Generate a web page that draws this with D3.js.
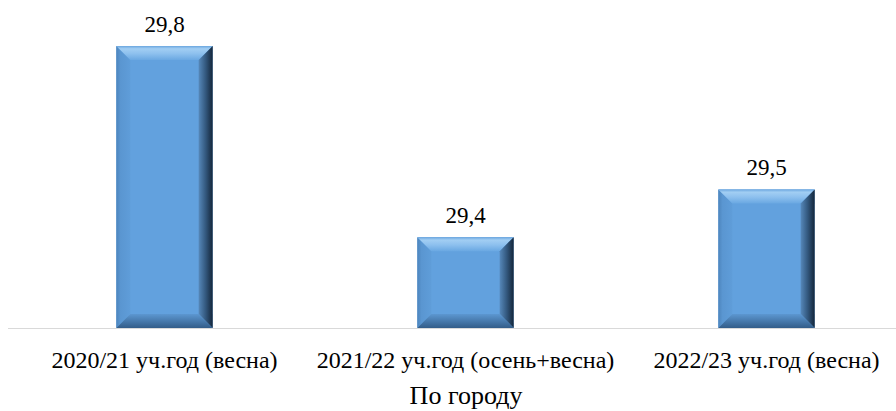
<!DOCTYPE html>
<html>
<head>
<meta charset="utf-8">
<script src="https://cdn.jsdelivr.net/npm/d3@7"></script>
<style>
  html, body { margin: 0; padding: 0; background: #fff; }
  svg { display: block; }
</style>
</head>
<body>
<script>
const categories = ["2020/21 уч.год (весна)", "2021/22 уч.год (осень+весна)", "2022/23 уч.год (весна)"];
const values = [29.8, 29.4, 29.5];
const valueLabels = ["29,8", "29,4", "29,5"];
const axisTitle = "По городу";

const width = 896, height = 411;
const baseY = 328;
const serif = '"Times New Roman", "Liberation Serif", serif';

const svg = d3.select("body").append("svg")
  .attr("width", width).attr("height", height);

const x = d3.scaleBand()
  .domain(categories)
  .range([14, 917])
  .paddingInner(0.68)
  .paddingOuter(0.34);

const y = d3.scaleLinear()
  .domain([29.21, 29.8])
  .range([baseY, 46]);

const defs = svg.append("defs");
function grad(id, x2, y2, stops) {
  const g = defs.append("linearGradient").attr("id", id)
    .attr("x1", 0).attr("y1", 0).attr("x2", x2).attr("y2", y2);
  stops.forEach(s => g.append("stop").attr("offset", s[0]).attr("stop-color", s[1]));
}
grad("gTop", 0, 1, [[0, "#6aa6df"], [0.2, "#a2cef3"], [0.55, "#8dc0ee"], [1, "#6aa8e2"]]);
grad("gLeft", 1, 0, [[0, "#4d85bd"], [0.3, "#5a96d1"], [1, "#5f9dd9"]]);
grad("gRight", 1, 0, [[0, "#5688ba"], [0.5, "#33587e"], [1, "#14263a"]]);
grad("gBottom", 0, 1, [[0, "#5c97d1"], [1, "#335d89"]]);

const bevel = 14;

const bars = svg.selectAll("g.bar")
  .data(values)
  .join("g")
  .attr("class", "bar");

function poly(d, i, side) {
  const x0 = x(categories[i]), x1 = x0 + x.bandwidth();
  const y0 = y(d), y1 = baseY;
  const b = Math.min(bevel, (y1 - y0) / 3);
  const ix0 = x0 + bevel, ix1 = x1 - bevel, iy0 = y0 + b, iy1 = y1 - b;
  let pts;
  if (side === "top") pts = [[x0, y0], [x1, y0], [ix1, iy0], [ix0, iy0]];
  if (side === "left") pts = [[x0, y0], [ix0, iy0], [ix0, iy1], [x0, y1]];
  if (side === "right") pts = [[x1, y0], [x1, y1], [ix1, iy1], [ix1, iy0]];
  if (side === "bottom") pts = [[x0, y1], [ix0, iy1], [ix1, iy1], [x1, y1]];
  return pts.map(p => p.join(",")).join(" ");
}

bars.append("rect")
  .attr("x", (d, i) => x(categories[i]))
  .attr("y", d => y(d))
  .attr("width", x.bandwidth())
  .attr("height", d => baseY - y(d))
  .attr("fill", "#62a1de");

[["left", "url(#gLeft)"], ["top", "url(#gTop)"], ["right", "url(#gRight)"], ["bottom", "url(#gBottom)"]]
  .forEach(([side, fill]) => {
    bars.append("polygon")
      .attr("points", (d, i) => poly(d, i, side))
      .attr("fill", fill);
  });

// axis line
svg.append("line")
  .attr("x1", 8).attr("x2", width)
  .attr("y1", baseY + 0.5).attr("y2", baseY + 0.5)
  .attr("stroke", "#d9d9d9").attr("stroke-width", 1);

// value labels
svg.selectAll("text.val")
  .data(values)
  .join("text")
  .attr("class", "val")
  .attr("x", (d, i) => x(categories[i]) + x.bandwidth() / 2)
  .attr("y", d => y(d) - 14)
  .attr("text-anchor", "middle")
  .attr("font-size", 23)
  .style("font-family", serif)
  .text((d, i) => valueLabels[i]);

// category labels
svg.selectAll("text.cat")
  .data(categories)
  .join("text")
  .attr("class", "cat")
  .attr("x", d => x(d) + x.bandwidth() / 2)
  .attr("y", 368)
  .attr("text-anchor", "middle")
  .attr("font-size", 24)
  .style("font-family", serif)
  .text(d => d);

svg.append("text")
  .attr("x", 466)
  .attr("y", 404)
  .attr("text-anchor", "middle")
  .attr("font-size", 26)
  .style("font-family", serif)
  .text(axisTitle);
</script>
</body>
</html>
